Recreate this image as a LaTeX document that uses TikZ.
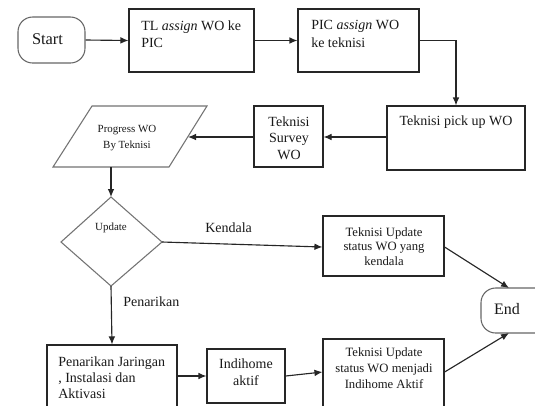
\documentclass[tikz,border=0pt]{standalone}
\usepackage{fontspec}
\setmainfont{Liberation Serif}
\usetikzlibrary{arrows.meta}
\begin{document}
\begin{tikzpicture}[x=0.75pt,y=-0.75pt,
  boxnode/.style={draw=black!85,line width=0.85pt,inner sep=0pt,minimum width=#1},
  termnode/.style={draw=black!60,line width=0.8pt,rounded corners=11pt,inner sep=0pt},
  shapeline/.style={draw=black!55,line width=0.8pt},
  arr/.style={draw=black!85,line width=0.85pt,-{Latex[length=6pt,width=5pt]}},
  txt/.style={inner sep=0pt,text=black!90,font=\fontsize{10.5}{13}\selectfont},
  txtsm/.style={inner sep=0pt,text=black!90,font=\fontsize{9.5}{11.3}\selectfont,align=center},
  txttiny/.style={inner sep=0pt,text=black!90,font=\fontsize{8.2}{11.7}\selectfont,align=center}]
\clip (0,0) rectangle (535,405);
\fill[white] (0,0) rectangle (535,405);
% Start
\node[termnode,minimum width=50.25pt,minimum height=34.5pt] (start) at (51.5,40) {};
\node[inner sep=0pt,text=black!90,font=\fontsize{12.3}{14}\selectfont] (startT) at (47.5,39) {Start};
% TL box
\node[boxnode=93.75pt,minimum height=47.25pt] (tl) at (191.5,40.5) {};
\node[txt,anchor=west,align=left] (tlT) at (141,34) {TL \textit{assign} WO ke\\PIC};
% PIC box
\node[boxnode=90.75pt,minimum height=47.25pt] (pic) at (358.5,40.5) {};
\node[txt,anchor=west,align=left] (picT) at (311,34) {PIC \textit{assign} WO\\ke teknisi};
% pick up box
\node[boxnode=103.5pt,minimum height=48pt] (pick) at (456,138) {};
\node[txt] (pickT) at (456,122) {Teknisi pick up WO};
% survey box
\node[boxnode=51.75pt,minimum height=45.75pt] (survey) at (288.5,136.5) {};
\node[txt,align=center,font=\fontsize{10.5}{12.4}\selectfont] (surveyT) at (289,138) {Teknisi\\Survey\\WO};
% parallelogram
\coordinate (pTL) at (92,106);
\coordinate (pTR) at (207,106);
\coordinate (pBR) at (169,167);
\coordinate (pBL) at (53,167);
\coordinate (pR) at (188,137);
\coordinate (pB) at (111,167);
\draw[shapeline] (pTL) -- (pTR) -- (pBR) -- (pBL) -- cycle;
\node[txttiny] (progT) at (127,138) {Progress WO\\By Teknisi};
% diamond
\coordinate (dT) at (111,197);
\coordinate (dR) at (162,242);
\coordinate (dB) at (111,286);
\coordinate (dL) at (61,242);
\draw[shapeline] (dT) -- (dR) -- (dB) -- (dL) -- cycle;
\node[txttiny] (updT) at (111,228) {Update};
% kendala box
\node[boxnode=90.75pt,minimum height=45pt] (kend) at (383.5,246) {};
\node[txtsm,font=\fontsize{9.5}{10.9}\selectfont] (kendT) at (384,246.5) {Teknisi Update\\status WO yang\\kendala};
% End
\node[termnode,minimum width=66.75pt,minimum height=33.75pt] (end) at (525.5,310.5) {};
\node[inner sep=0pt,text=black!90,font=\fontsize{12}{14}\selectfont] (endT) at (507,309) {End};
\coordinate (endTop) at (509,288);
\coordinate (endBot) at (509,333);
% Penarikan box
\node[boxnode=97.5pt,minimum height=56.25pt] (pen) at (112,382.5) {};
\node[txt,anchor=west,align=left,font=\fontsize{10.5}{12}\selectfont] (penT) at (58,378) {Penarikan Jaringan\\, Instalasi dan\\Aktivasi};
% Indihome box
\node[boxnode=58.5pt,minimum height=40.5pt] (indi) at (246,376) {};
\node[txt,align=center,font=\fontsize{10.5}{12.75}\selectfont] (indiT) at (246,372.5) {Indihome\\aktif};
% TU2 box
\node[boxnode=90.75pt,minimum height=60.75pt] (tu) at (383.5,379.5) {};
\node[txtsm,font=\fontsize{9.5}{12}\selectfont] (tuT) at (384,368) {Teknisi Update\\status WO menjadi\\Indihome Aktif};
% labels
\node[txt,anchor=west] (kendL) at (205,228) {Kendala};
\node[txt,anchor=west] (penL) at (123,302) {Penarikan};
% connectors
\draw[arr] (start.east) -- (tl.west);
\draw[arr] (tl.east) -- (pic.west);
\draw[arr] (pic.east) -| (pick.north);
\draw[arr] ([yshift=0.75pt]pick.west) -- ([yshift=0.75pt]pick.west -| survey.east);
\draw[arr] (survey.west |- pR) -- (pR);
\draw[arr] (pB) -- (dT);
\draw[arr] (dR) -- ([yshift=-0.75pt]kend.west);
\draw[arr] (dB) -- (pen.north);
\draw[arr] (indi.west -| pen.east) -- (indi.west);
\draw[arr] (indi.east) -- ([yshift=5.6pt]tu.west);
\draw[arr] ([yshift=-0.75pt]kend.east) -- (endTop);
\draw[arr] ([yshift=5.6pt]tu.east) -- (endBot);
\end{tikzpicture}
\end{document}
